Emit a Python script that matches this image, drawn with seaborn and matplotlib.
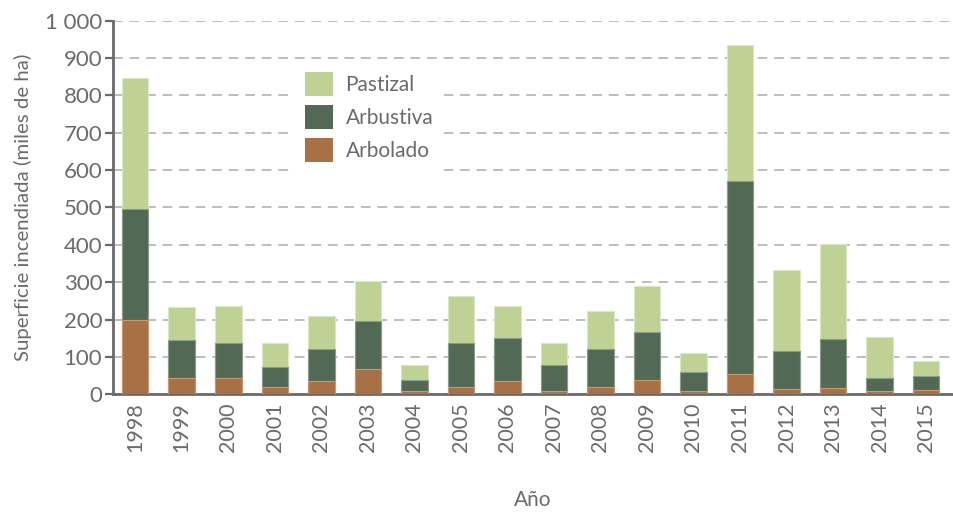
import matplotlib
matplotlib.use("Agg")
import matplotlib.pyplot as plt
from matplotlib.ticker import FuncFormatter, MultipleLocator
from matplotlib.patches import Patch
import numpy as np
import pandas as pd
import seaborn as sns

years = ["1998", "1999", "2000", "2001", "2002", "2003", "2004", "2005", "2006",
         "2007", "2008", "2009", "2010", "2011", "2012", "2013", "2014", "2015"]
arbolado = [200, 43, 43, 20, 36, 68, 8, 19, 36, 10, 20, 38, 9, 54, 15, 17, 8, 11]
arbustiva = [296, 102, 93, 54, 86, 129, 31, 117, 116, 68, 102, 129, 50, 517, 102, 132, 35, 38]
pastizal = [351, 88, 101, 64, 88, 105, 39, 126, 84, 58, 101, 122, 52, 363, 217, 252, 110, 39]

series_names = ["Pastizal", "Arbustiva", "Arbolado"]
colors = {"Pastizal": "#bfd194", "Arbustiva": "#526a55", "Arbolado": "#a87045"}
edges = {"Pastizal": "#dce8c4", "Arbustiva": "#8a9c8a", "Arbolado": "#c99670"}

df = pd.DataFrame({"year": years, "Arbolado": arbolado,
                   "Arbustiva": arbustiva, "Pastizal": pastizal})
df["top_arbolado"] = df["Arbolado"]
df["top_arbustiva"] = df["Arbolado"] + df["Arbustiva"]
df["top_pastizal"] = df["top_arbustiva"] + df["Pastizal"]

sns.set_theme(style="white")
plt.rcParams["font.family"] = ["Lato", "DejaVu Sans"]

text_color = "#6b6b6b"
fig = plt.figure(figsize=(9.54, 5.12), dpi=100)
ax = fig.add_axes([0.1188, 0.2299, 0.8812, 0.7297])

# stacked bars: draw cumulative heights, tallest first
for col, name in [("top_pastizal", "Pastizal"), ("top_arbustiva", "Arbustiva"),
                  ("top_arbolado", "Arbolado")]:
    sns.barplot(data=df, x="year", y=col, color=colors[name], width=0.57,
                saturation=1, edgecolor=edges[name], linewidth=0.8, ax=ax,
                zorder=3)

ax.set_ylim(0, 1000)
ax.set_xlim(-0.47, 17.6)
ax.yaxis.set_major_locator(MultipleLocator(100))
ax.yaxis.set_major_formatter(FuncFormatter(lambda v, p: f"{int(v):,}".replace(",", " ")))
ax.grid(axis="y", color="#bdbdbd", linestyle=(0, (5, 3.5)), linewidth=1.4, zorder=0)
ax.set_axisbelow(True)

for s in ["top", "right"]:
    ax.spines[s].set_visible(False)
for s in ["left", "bottom"]:
    ax.spines[s].set_color("#6a6a6a")
    ax.spines[s].set_linewidth(2)

ax.tick_params(axis="y", length=6, width=1.6, color="#6a6a6a", labelsize=16,
               labelcolor=text_color, pad=2, left=True)
ax.tick_params(axis="x", length=0, labelsize=15.5, labelcolor=text_color, pad=6,
               labelrotation=90)

ax.set_xlabel("")
ax.set_ylabel("Superficie incendiada (miles de ha)", fontsize=14.7,
              color=text_color, labelpad=9)
fig.text(0.5587, 0.023, "Año", fontsize=15, color=text_color,
         ha="center", va="center")

handles = [Patch(facecolor=colors[n], edgecolor="none") for n in series_names]
leg = ax.legend(handles, series_names, loc="upper left",
                bbox_to_anchor=(0.2155, 0.89), frameon=True, facecolor="white",
                edgecolor="none", framealpha=1, fontsize=15, handlelength=1.35,
                handleheight=1.4, handletextpad=0.6, labelspacing=0.42,
                borderpad=0.5, borderaxespad=0)
for t in leg.get_texts():
    t.set_color(text_color)
leg.set_zorder(4)

fig.savefig("out.png", dpi=100)
